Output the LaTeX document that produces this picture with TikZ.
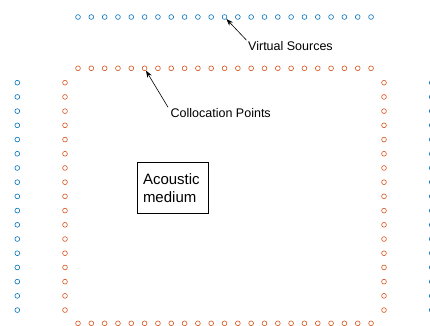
\documentclass[tikz,border=0pt]{standalone}
\usepackage{fontspec}
\setmainfont{Liberation Sans}
\usetikzlibrary{arrows.meta}
\definecolor{vsblue}{RGB}{0,114,189}
\definecolor{cporange}{RGB}{217,83,25}
\tikzset{
  vsrc/.style={circle,draw=vsblue,line width=0.6pt,minimum size=4.8pt,inner sep=0pt},
  cpt/.style={circle,draw=cporange,line width=0.6pt,minimum size=4.8pt,inner sep=0pt},
  lbl/.style={inner sep=0pt,anchor=west,font=\fontsize{12.5}{14}\selectfont},
  arr/.style={-{Stealth[length=7pt,width=5pt]},line width=0.6pt,black},
  medbox/.style={draw=black,line width=0.5pt,minimum width=70.6pt,minimum height=51pt,inner sep=0pt,font=\fontsize{15}{18}\selectfont}
}
\begin{document}
\begin{tikzpicture}[x=1pt,y=-1pt]
\useasboundingbox (0,0) rectangle (430,325);
\clip (0,0) rectangle (430,325);
\fill[white] (0,0) rectangle (430,325);
% top rows
\foreach \i in {0,...,22}{
  \node[vsrc] (vt\i) at ({78+\i*13.32},17) {};
  \node[cpt] (ot\i) at ({78+\i*13.32},68.3) {};
  \node[cpt] (ob\i) at ({78+\i*13.32},323.3) {};
}
% columns
\foreach \j in {0,...,16}{
  \node[vsrc] (vl\j) at (17.3,{82.7+\j*14.21}) {};
  \node[cpt] (ol\j) at (65,{82.7+\j*14.21}) {};
  \node[cpt] (or\j) at (384,{82.7+\j*14.21}) {};
  \node[vsrc] (vr\j) at (431.7,{82.7+\j*14.21}) {};
}
\node[lbl] (vslab) at (248,46) {Virtual Sources};
\node[lbl] (cplab) at (170.5,113) {Collocation Points};
\draw[arr] ([xshift=-1.5pt,yshift=1pt]vslab.north west) -- (vt11);
\draw[arr] ([xshift=-2.5pt,yshift=1pt]cplab.north west) -- (ot5);
\node[medbox] (med) at (173,187.8) {\parbox{60pt}{\raggedright Acoustic\\medium}};
\end{tikzpicture}
\end{document}
